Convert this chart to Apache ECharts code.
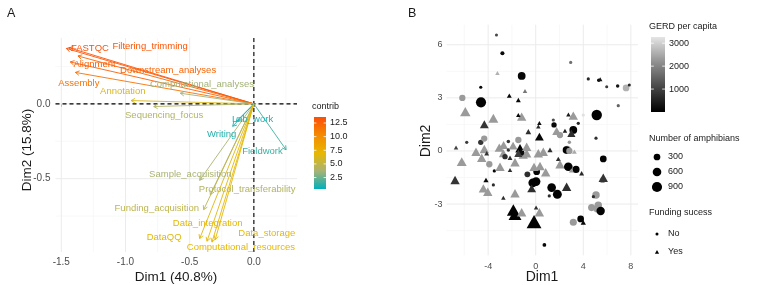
<!DOCTYPE html>
<html><head><meta charset="utf-8">
<script src="https://cdn.jsdelivr.net/npm/echarts@6/dist/echarts.min.js"></script>
<style>html,body{margin:0;padding:0;background:#fff}#c{width:763px;height:285px}</style>
</head><body><div id="c"></div>
<script>
// ---------- Panel A: PCA variables ----------
const varNames = ['FASTQC','Filtering_trimming','Alignment','Downstream_analyses','Assembly',
  'Computational_analyses','Annotation','Sequencing_focus','Lab_work','Writing','Fieldwork',
  'Sample_acquisition','Protocol_transferability','Funding_acquisition','Data_integration',
  'DataQQ','Data_storage','Computational_resources'];
const varDim1 = [-1.46,-1.44,-1.43,-1.37,-1.39,-0.573,-0.956,-0.78,-0.137,-0.165,0.251,-0.422,-0.339,-0.391,-0.365,-0.422,-0.301,-0.326];
const varDim2 = [0.37,0.375,0.28,0.32,0.21,0.071,0.022,-0.018,-0.118,-0.15,-0.307,-0.511,-0.607,-0.707,-0.918,-0.90,-0.907,-0.924];
const varContrib = [13.4,13.2,12.6,12.4,11.6,3.6,6.2,4.2,1.0,1.1,1.6,3.8,4.3,4.8,6.8,6.6,6.9,7.0];
const labelDim1 = [-1.277,-0.808,-1.241,-0.668,-1.363,-0.404,-1.021,-0.699,-0.010,-0.251,0.067,-0.495,-0.052,-0.756,-0.360,-0.699,0.101,-0.101];
const labelDim2 = [0.371,0.387,0.264,0.224,0.138,0.127,0.082,-0.078,-0.102,-0.207,-0.318,-0.469,-0.569,-0.700,-0.796,-0.891,-0.867,-0.956];
const contribTicks = [2.5,5.0,7.5,10.0,12.5];
const aTicksX = [-1.5,-1.0,-0.5,0.0];
const aTicksY = [-0.5,0.0];
const aMinorX = [-1.25,-0.75,-0.25,0.25];
const aMinorY = [-0.75,-0.25,0.25];

// ---------- Panel B: individuals ----------
const indDim1 = [
 -3.30,-2.80,2.94,-3.22,-1.18,4.42,5.30,5.42,5.97,6.89,7.60,7.87,6.94,
 -4.62,-2.22,-0.90,-1.46,-6.17,-4.60,
 -5.92,-3.56,-1.18,-1.46,-4.32,0.31,0.22,-0.62,0.31,5.13,4.00,3.16,2.75,3.58,1.48,1.54,1.76,2.04,3.16,3.00,2.46,
 -5.80,-6.70,-4.62,-4.33,-4.32,-5.02,-4.54,-4.12,-3.90,-6.22,-6.78,-4.18,-3.48,-3.56,-4.40,-4.03,-2.72,-1.74,-1.88,-1.74,-1.18,0.03,0.31,-0.14,0.73,
 -3.06,-2.70,-2.30,-2.72,-3.00,-2.16,-2.30,-1.74,-2.16,-1.46,-1.90,-2.58,-1.05,-1.32,-1.20,-1.46,-0.76,-0.76,0.22,-0.70,0.08,0.03,-0.25,-0.34,-0.14,0.36,0.84,
 2.83,2.65,2.58,2.83,3.25,1.20,0.64,1.90,2.04,2.74,3.39,3.00,3.86,5.68,5.62,5.68,2.60,1.34,1.82,1.14,5.07,4.85,4.70,5.26,5.17,5.46,3.16,3.78,4.00,5.07];
const indDim2 = [
 6.55,5.52,5.00,4.40,4.24,4.07,4.00,4.05,3.63,3.67,3.56,3.73,2.56,
 3.60,3.13,3.39,2.88,3.00,2.75,
 2.22,1.85,1.94,2.03,1.51,1.58,1.38,1.09,0.81,2.03,2.03,2.00,2.06,1.56,1.75,1.47,1.13,0.90,1.19,1.00,1.14,
 0.49,0.19,0.49,0.70,0.11,-0.04,-0.38,-0.13,-0.75,-0.60,-1.64,-1.64,-1.13,-1.92,-2.11,-2.30,-2.64,-2.39,-3.33,-3.58,-3.46,-3.20,-3.46,-3.99,-5.31,
 0.19,0.34,0.54,-0.13,-0.89,-0.38,0.06,-0.64,-1.07,0.62,0.30,-0.32,-0.20,0.15,-0.05,-0.13,0.24,-0.13,-0.13,-1.32,-1.17,-1.73,-1.80,-2.11,-0.90,-0.85,-1.20,
 0.49,0.06,0.06,0.00,-0.04,0.06,-0.04,-0.45,-0.75,-0.89,-1.04,-1.10,-1.26,-0.45,-1.65,-1.51,-2.02,-2.07,-2.45,-2.54,-2.49,-2.58,-3.20,-3.07,-3.28,-3.39,-4.03,-3.84,-4.03,0.72];
const indGERD = [
 1100,150,1700,2600,100,600,200,300,900,300,2600,600,1500,
 100,100,1800,100,2300,50,
 2300,2300,2300,100,800,200,700,700,100,50,3200,2300,400,600,1200,100,2300,2300,50,700,500,
 900,1000,800,2300,2300,2300,2300,800,2300,2300,800,100,100,700,2300,2300,700,2300,50,50,2300,700,2300,50,100,
 2300,2300,800,2300,2300,700,800,2300,700,2300,2300,700,2300,50,200,900,2300,2300,2300,700,50,50,50,700,2300,2300,2300,
 2300,2300,50,2300,2500,700,2300,700,2300,50,50,2300,600,50,2300,800,700,50,50,700,2300,700,2300,2300,2300,50,2300,50,100,700];
const indAmphibians = [
 15,60,20,20,450,20,30,20,15,30,300,15,20,
 20,30,20,30,250,900,
 400,350,300,20,250,20,20,60,250,950,20,300,20,20,20,150,250,250,450,200,20,
 20,20,150,250,300,300,300,30,250,350,300,40,20,20,300,300,20,300,700,700,300,20,300,1000,40,
 300,250,30,250,300,30,30,300,20,250,250,150,300,300,200,200,300,300,300,200,300,600,600,250,300,300,300,
 30,550,400,250,30,40,300,30,300,600,350,30,30,300,200,300,300,600,650,20,400,20,350,400,350,550,350,300,40,20];
const indFunded = [
 0,0,0,1,0,0,0,1,0,0,0,0,0,
 0,1,1,1,0,0,
 1,1,1,1,1,1,1,1,1,0,0,1,1,0,0,0,1,0,0,1,1,
 0,1,0,0,1,1,1,1,0,1,1,1,0,0,1,1,1,1,1,1,1,1,1,1,0,
 1,1,0,1,1,1,0,1,1,0,1,0,1,1,1,1,1,1,1,0,0,0,0,1,1,1,1,
 0,0,0,0,1,1,1,1,1,0,0,1,1,0,0,1,1,0,0,0,0,0,0,0,0,0,0,0,1,0];
const fundingLevels = ['No','Yes'];
const gerdTicks = [1000,2000,3000];
const amphTicks = [300,600,900];
const bTicksX = [-4,0,4,8];
const bTicksY = [-3,0,3,6];
const bMinorX = [-6,-2,2,6];
const bMinorY = [-4.5,-1.5,1.5,4.5];

// ---------- styles ----------
const FONT = "'Liberation Sans', Arial, Helvetica, sans-serif";
const contribRange = [0.4, 13.6];
const contribColors = ['#00AFBB','#A8B375','#E7B800','#F48A01','#FC4E07'];
const gerdRange = [0, 3270];
const gerdColors = ['#000000','#474747','#919191','#e5e5e5'];
const sizeFn = v => 2 + 8.6*Math.sqrt(v/1000);
const triW = 1.4, triH = 1.25;

const gridA = {left:55.5, top:38, width:241.5, height:214};
const gridB = {left:446.5, top:24.6, width:191.5, height:230.8};

function gridRows(majX, minX, majY, minY, dashed){
  const r = [];
  minX.forEach(v=>r.push([v,0,1])); minY.forEach(v=>r.push([v,1,1]));
  majX.forEach(v=>r.push([v,0,0])); majY.forEach(v=>r.push([v,1,0]));
  if (dashed) { r.push([0,0,2]); r.push([0,1,2]); }
  return r;
}
const lineStyles = [
  {stroke:'#ebebeb', lineWidth:1},
  {stroke:'#f4f4f4', lineWidth:0.6},
  {stroke:'#000000', lineWidth:1.1, lineDash:[4,3]}
];
function renderGrid(params, api){
  const cs = params.coordSys;
  const v = api.value(0), o = api.value(1), k = api.value(2);
  let shape;
  if (o === 0) { const px = api.coord([v, 0])[0]; shape = {x1:px, y1:cs.y, x2:px, y2:cs.y+cs.height}; }
  else { const py = api.coord([0, v])[1]; shape = {x1:cs.x, y1:py, x2:cs.x+cs.width, y2:py}; }
  return {type:'line', shape, style: lineStyles[k], silent:true};
}
function renderArrow(params, api){
  const p0 = api.coord([0,0]);
  const p1 = api.coord([api.value(0), api.value(1)]);
  const color = api.visual('color');
  const ang = Math.atan2(p1[1]-p0[1], p1[0]-p0[0]);
  const L = 4.5, a = Math.PI/6;
  const h1 = [p1[0]-L*Math.cos(ang-a), p1[1]-L*Math.sin(ang-a)];
  const h2 = [p1[0]-L*Math.cos(ang+a), p1[1]-L*Math.sin(ang+a)];
  return {type:'group', children:[
    {type:'line', shape:{x1:p0[0],y1:p0[1],x2:p1[0],y2:p1[1]}, style:{stroke:color, lineWidth:0.9}},
    {type:'polyline', shape:{points:[h1,p1,h2]}, style:{stroke:color, fill:null, lineWidth:0.9}}
  ]};
}
function renderLabel(params, api){
  const p = api.coord([api.value(0), api.value(1)]);
  return {type:'text', x:p[0], y:p[1], style:{text: varNames[params.dataIndex], fill: api.visual('color'),
    fontSize:9.5, fontFamily:FONT, align:'center', verticalAlign:'middle'}};
}

const arrowData = varNames.map((n,i)=>[varDim1[i], varDim2[i], varContrib[i]]);
const labelData = varNames.map((n,i)=>[labelDim1[i], labelDim2[i], varContrib[i]]);
const pointData = indDim1.map((x,i)=>[x, indDim2[i], indGERD[i], indAmphibians[i], indFunded[i]]);

// ---------- legends / titles (graphic) ----------
const g = [];
function txt(x,y,t,size,opt){ g.push(Object.assign({type:'text', x, y, silent:true,
  style:{text:t, fontSize:size, fontFamily:FONT, fill:(opt&&opt.fill)||'#1a1a1a', align:(opt&&opt.align)||'left', verticalAlign:'middle'}},
  opt&&opt.rot?{rotation:opt.rot}:{})); }
txt(7,14,'A',12.5);
txt(408,14,'B',12.5);
txt(176,277,'Dim1 (40.8%)',13.5,{align:'center'});
txt(27,150,'Dim2 (15.8%)',13.5,{align:'center', rot:Math.PI/2});
txt(542,277,'Dim1',14,{align:'center'});
txt(426,141,'Dim2',14,{align:'center', rot:Math.PI/2});

function colorbar(x,y,w,h,colors,range,ticks,fmt,title){
  const stops = colors.slice().reverse().map((c,i,arr)=>({offset:i/(arr.length-1), color:c}));
  g.push({type:'rect', shape:{x,y,width:w,height:h}, silent:true,
    style:{fill:new echarts.graphic.LinearGradient(0,0,0,1,stops)}});
  ticks.forEach(v=>{
    const ty = y + (range[1]-v)/(range[1]-range[0])*h;
    g.push({type:'line', shape:{x1:x,y1:ty,x2:x+w*0.2,y2:ty}, style:{stroke:'#fff',lineWidth:0.8}, silent:true});
    g.push({type:'line', shape:{x1:x+w*0.8,y1:ty,x2:x+w,y2:ty}, style:{stroke:'#fff',lineWidth:0.8}, silent:true});
    txt(x+w+4, ty, fmt(v), 9);
  });
  txt(x-2, y-10, title, 9);
}
colorbar(314,117,12,72,contribColors,contribRange,contribTicks,v=>v.toFixed(1),'contrib');
colorbar(651,37,14,75,gerdColors,gerdRange,gerdTicks,v=>String(v),'GERD per capita');

txt(649,139,'Number of amphibians',9);
amphTicks.forEach((v,i)=>{
  const cy = 157 + i*15;
  g.push({type:'circle', shape:{cx:657, cy, r:sizeFn(v)/2}, style:{fill:'#000'}, silent:true});
  txt(668, cy, String(v), 9);
});
txt(649,213,'Funding sucess',9);
fundingLevels.forEach((lv,i)=>{
  const cy = 234 + i*18;
  const s = sizeFn(15);
  if (i===0) g.push({type:'circle', shape:{cx:657, cy, r:s/2}, style:{fill:'#000'}, silent:true});
  else g.push({type:'polygon', shape:{points:[[657,cy-s*0.65],[657-s*0.7,cy+s*0.55],[657+s*0.7,cy+s*0.55]]}, style:{fill:'#000'}, silent:true});
  txt(668, cy, lv, 9);
});

const chart = echarts.init(document.getElementById('c'), null, {renderer:'canvas', width:763, height:285});
const axLabel = (vals, fmt, margin, size) => ({customValues: vals, formatter: fmt, color:'#4d4d4d', fontSize:size, fontFamily:FONT, margin});
chart.setOption({
  animation:false,
  backgroundColor:'#ffffff',
  grid:[Object.assign({containLabel:false, outerBoundsMode:'none'}, gridA), Object.assign({containLabel:false, outerBoundsMode:'none'}, gridB)],
  xAxis:[
    {type:'value', gridIndex:0, min:-1.545, max:0.336, axisLine:{show:false}, splitLine:{show:false},
     axisTick:{show:true, customValues:aTicksX, length:3, lineStyle:{color:'#333'}},
     axisLabel:axLabel(aTicksX, v=>v.toFixed(1), 5, 10)},
    {type:'value', gridIndex:1, min:-7.5, max:8.6, axisLine:{show:false}, splitLine:{show:false},
     axisTick:{show:false}, axisLabel:axLabel(bTicksX, v=>String(v), 7, 9)}
  ],
  yAxis:[
    {type:'value', gridIndex:0, min:-0.99, max:0.44, axisLine:{show:false}, splitLine:{show:false},
     axisTick:{show:true, customValues:aTicksY, length:3, lineStyle:{color:'#333'}},
     axisLabel:axLabel(aTicksY, v=>v.toFixed(1), 5, 10)},
    {type:'value', gridIndex:1, min:-5.9, max:7.14, axisLine:{show:false}, splitLine:{show:false},
     axisTick:{show:false}, axisLabel:axLabel(bTicksY, v=>String(v), 4, 9)}
  ],
  visualMap:[
    {type:'continuous', show:false, seriesIndex:[1,2], dimension:2, min:contribRange[0], max:contribRange[1], inRange:{color:contribColors}},
    {type:'continuous', show:false, seriesIndex:[4], dimension:2, min:gerdRange[0], max:gerdRange[1], inRange:{color:gerdColors}}
  ],
  series:[
    {type:'custom', xAxisIndex:0, yAxisIndex:0, renderItem:renderGrid, data:gridRows(aTicksX,aMinorX,aTicksY,aMinorY,true), silent:true, clip:false, z:1},
    {type:'custom', xAxisIndex:0, yAxisIndex:0, renderItem:renderArrow, data:arrowData, silent:true, z:3},
    {type:'custom', xAxisIndex:0, yAxisIndex:0, renderItem:renderLabel, data:labelData, silent:true, z:4},
    {type:'custom', xAxisIndex:1, yAxisIndex:1, renderItem:renderGrid, data:gridRows(bTicksX,bMinorX,bTicksY,bMinorY,false), silent:true, clip:false, z:1},
    {type:'scatter', xAxisIndex:1, yAxisIndex:1, data:pointData, z:3, silent:true,
     symbol:(v)=> v[4] ? 'triangle' : 'circle',
     symbolSize:(v)=> v[4] ? [sizeFn(v[3])*triW, sizeFn(v[3])*triH] : sizeFn(v[3]),
     itemStyle:{opacity:1}}
  ],
  graphic:{elements:g}
});
</script></body></html>
